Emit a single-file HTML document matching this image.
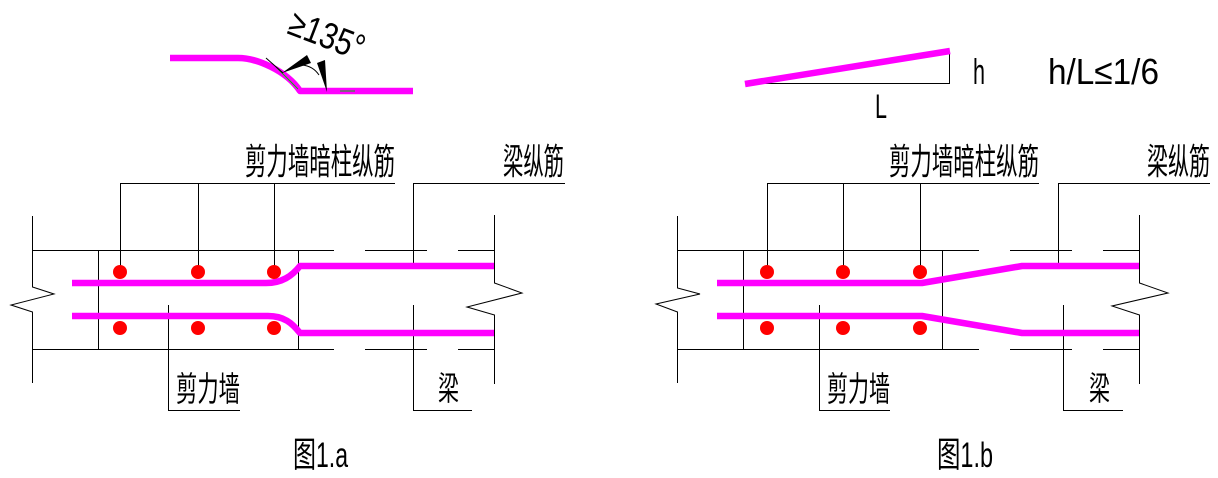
<!DOCTYPE html>
<html>
<head>
<meta charset="utf-8">
<style>
  html,body{margin:0;padding:0;background:#fff;}
  svg{display:block;}
  .k{stroke:#000;stroke-width:1;fill:none;shape-rendering:crispEdges;}
  .kz{stroke:#000;stroke-width:1;fill:none;}
  .m{stroke:#ff00ff;stroke-width:6.5;fill:none;stroke-linejoin:round;}
  .cjk{font-family:"Liberation Sans","Noto Sans CJK SC",sans-serif;fill:#000;}
  .lat{font-family:"Liberation Sans","DejaVu Sans",sans-serif;fill:#000;}
</style>
</head>
<body>
<svg width="1218" height="478" viewBox="0 0 1218 478" xmlns="http://www.w3.org/2000/svg">

  <!-- ===== Top-left: 135 degree hook detail ===== -->
  <path class="m" d="M170,58 L238,58 C256,58 286,70 300,91 L413,91"/>
  <line x1="276" y1="67" x2="298" y2="89" stroke="#00c000" stroke-width="1"/>
  <line x1="340" y1="91" x2="355" y2="91" stroke="#00c000" stroke-width="1"/>
  <line class="kz" x1="266" y1="58" x2="283" y2="73"/>
  <polygon points="282,73 307,55 311,63" fill="#000"/>
  <polygon points="327,92 317,63 325,60" fill="#000"/>
  <path class="kz" d="M302,65 Q313,66 319,75"/>
  <text class="lat" x="0" y="0" transform="translate(286,33) rotate(21)" font-size="37" textLength="78" lengthAdjust="spacingAndGlyphs">≥135°</text>

  <!-- ===== Top-right: slope detail ===== -->
  <line class="k" x1="745.5" y1="83.5" x2="949.5" y2="83.5"/>
  <line class="k" x1="949.5" y1="51" x2="949.5" y2="84"/>
  <line class="m" x1="745" y1="84" x2="950" y2="51" stroke-width="6"/>
  <text class="lat" x="875" y="118" font-size="34" textLength="12" lengthAdjust="spacingAndGlyphs">L</text>
  <text class="lat" x="973" y="84" font-size="36" textLength="12" lengthAdjust="spacingAndGlyphs">h</text>
  <text class="lat" x="1048" y="84" font-size="36" textLength="111" lengthAdjust="spacingAndGlyphs">h/L≤1/6</text>

  <!-- ===== Figure 1.a ===== -->
  <polyline class="kz" points="32.5,216 32.5,287 54,294 11,305 32.5,312 32.5,383"/>
  <line class="k" x1="32" y1="250.5" x2="334" y2="250.5"/>
  <line class="k" x1="365" y1="250.5" x2="427" y2="250.5"/>
  <line class="k" x1="458" y1="250.5" x2="494" y2="250.5"/>
  <line class="k" x1="32" y1="349.5" x2="334" y2="349.5"/>
  <line class="k" x1="365" y1="349.5" x2="427" y2="349.5"/>
  <line class="k" x1="458" y1="349.5" x2="494" y2="349.5"/>
  <line class="k" x1="98.5" y1="250" x2="98.5" y2="349"/>
  <line class="k" x1="298.5" y1="250" x2="298.5" y2="349"/>
  <polyline class="kz" points="494.5,215 494.5,283 522,293 467,307 494.5,315 494.5,384"/>
  <line class="k" x1="120" y1="183.5" x2="395" y2="183.5"/>
  <line class="k" x1="120.5" y1="183" x2="120.5" y2="272"/>
  <line class="k" x1="198.5" y1="183" x2="198.5" y2="272"/>
  <line class="k" x1="274.5" y1="183" x2="274.5" y2="272"/>
  <line class="k" x1="413" y1="183.5" x2="565" y2="183.5"/>
  <line class="k" x1="413.5" y1="183" x2="413.5" y2="264"/>
  <line class="k" x1="168.5" y1="305" x2="168.5" y2="410"/>
  <line class="k" x1="168" y1="410.5" x2="240" y2="410.5"/>
  <line class="k" x1="413.5" y1="305" x2="413.5" y2="410"/>
  <line class="k" x1="413" y1="410.5" x2="472" y2="410.5"/>
  <path class="m" d="M72,283 L266,283 C282,283 292,276 300,266 L494,266"/>
  <path class="m" d="M72,316 L268,316 C284,316 292,323 300,333 L494,333"/>
  <g fill="#ff0000">
    <circle cx="120" cy="272" r="7"/><circle cx="198" cy="272" r="7"/><circle cx="274" cy="272" r="7"/>
    <circle cx="120" cy="328" r="7"/><circle cx="198" cy="328" r="7"/><circle cx="274" cy="328" r="7"/>
  </g>
  <text class="cjk" x="245" y="174" font-size="36" textLength="150" lengthAdjust="spacingAndGlyphs">剪力墙暗柱纵筋</text>
  <text class="cjk" x="503" y="174" font-size="36" textLength="61" lengthAdjust="spacingAndGlyphs">梁纵筋</text>
  <text class="cjk" x="176" y="401" font-size="34" textLength="64" lengthAdjust="spacingAndGlyphs">剪力墙</text>
  <text class="cjk" x="438" y="400" font-size="33" textLength="21" lengthAdjust="spacingAndGlyphs">梁</text>
  <text class="cjk" x="293" y="467" font-size="35" textLength="55" lengthAdjust="spacingAndGlyphs">图1.a</text>

  <!-- ===== Figure 1.b ===== -->
  <polyline class="kz" points="677.5,216 677.5,288 700,294 656,304 677.5,312 677.5,383"/>
  <line class="k" x1="677" y1="250.5" x2="979" y2="250.5"/>
  <line class="k" x1="1010" y1="250.5" x2="1072" y2="250.5"/>
  <line class="k" x1="1103" y1="250.5" x2="1139" y2="250.5"/>
  <line class="k" x1="677" y1="349.5" x2="979" y2="349.5"/>
  <line class="k" x1="1010" y1="349.5" x2="1072" y2="349.5"/>
  <line class="k" x1="1103" y1="349.5" x2="1139" y2="349.5"/>
  <line class="k" x1="743.5" y1="250" x2="743.5" y2="349"/>
  <line class="k" x1="942.5" y1="250" x2="942.5" y2="349"/>
  <polyline class="kz" points="1139.5,215 1139.5,283 1168,293 1112,306 1139.5,315 1139.5,384"/>
  <line class="k" x1="767" y1="183.5" x2="1039" y2="183.5"/>
  <line class="k" x1="767.5" y1="183" x2="767.5" y2="272"/>
  <line class="k" x1="843.5" y1="183" x2="843.5" y2="272"/>
  <line class="k" x1="920.5" y1="183" x2="920.5" y2="272"/>
  <line class="k" x1="1058" y1="183.5" x2="1210" y2="183.5"/>
  <line class="k" x1="1058.5" y1="183" x2="1058.5" y2="264"/>
  <line class="k" x1="819.5" y1="305" x2="819.5" y2="410"/>
  <line class="k" x1="819" y1="410.5" x2="890" y2="410.5"/>
  <line class="k" x1="1063.5" y1="305" x2="1063.5" y2="410"/>
  <line class="k" x1="1063" y1="410.5" x2="1123" y2="410.5"/>
  <path class="m" d="M717,283 L922,283 L1022,266 L1139,266"/>
  <path class="m" d="M717,316 L922,316 L1022,333 L1139,333"/>
  <g fill="#ff0000">
    <circle cx="767" cy="272" r="7"/><circle cx="843" cy="272" r="7"/><circle cx="920" cy="272" r="7"/>
    <circle cx="767" cy="328" r="7"/><circle cx="843" cy="328" r="7"/><circle cx="920" cy="328" r="7"/>
  </g>
  <text class="cjk" x="889" y="174" font-size="36" textLength="150" lengthAdjust="spacingAndGlyphs">剪力墙暗柱纵筋</text>
  <text class="cjk" x="1147" y="174" font-size="36" textLength="63" lengthAdjust="spacingAndGlyphs">梁纵筋</text>
  <text class="cjk" x="827" y="401" font-size="34" textLength="63" lengthAdjust="spacingAndGlyphs">剪力墙</text>
  <text class="cjk" x="1089" y="400" font-size="33" textLength="21" lengthAdjust="spacingAndGlyphs">梁</text>
  <text class="cjk" x="937" y="467" font-size="35" textLength="56" lengthAdjust="spacingAndGlyphs">图1.b</text>
</svg>
</body>
</html>
